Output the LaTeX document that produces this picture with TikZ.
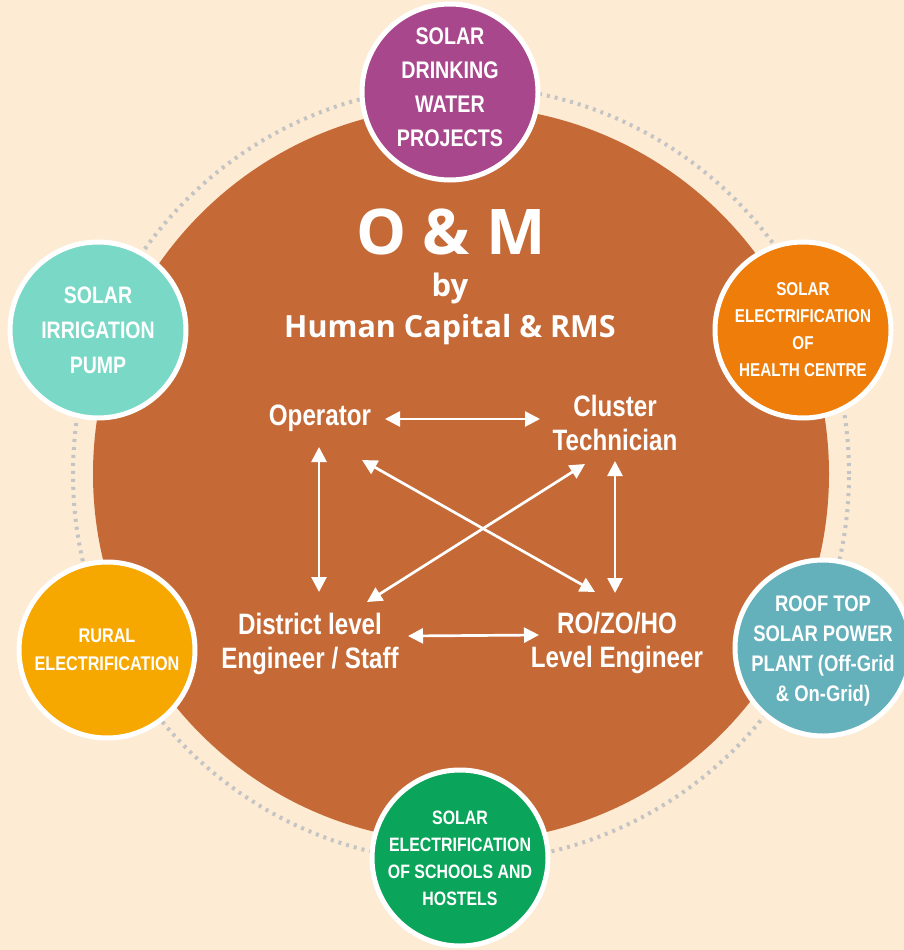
\documentclass[tikz,border=0pt]{standalone}
\usepackage{fontspec}
\setmainfont{Liberation Sans}
\newfontfamily\osfont{Open Sans}
\newfontfamily\cnd{Liberation Sans}[FakeStretch=0.82]
\usetikzlibrary{arrows.meta,calc}
\definecolor{bgc}{HTML}{FDEBD3}
\definecolor{brownc}{HTML}{C56A37}
\definecolor{ringc}{HTML}{C4C4C4}
\definecolor{purplec}{HTML}{A9478C}
\definecolor{orangec}{HTML}{EE7D0A}
\definecolor{tealc}{HTML}{64B1BB}
\definecolor{greenc}{HTML}{0AA55A}
\definecolor{yellowc}{HTML}{F7A800}
\definecolor{mintc}{HTML}{79D9C6}
\tikzset{
  sat/.style={circle, draw=white, line width=5pt, minimum size=176pt, inner sep=0pt},
  sattext/.style={align=center, text=white, inner sep=0pt},
  lbl/.style={text=white, align=center, inner sep=0pt, font=\cnd\bfseries\fontsize{29.5}{34.5}\selectfont},
  arr/.style={white, line width=2.7pt, {Triangle[length=15pt,width=15pt]}-{Triangle[length=15pt,width=15pt]}},
  ttl/.style={text=white, inner sep=0pt, font=\osfont\bfseries}
}
\begin{document}
\begin{tikzpicture}[x=1pt,y=-1pt]
\fill[bgc] (0,0) rectangle (904,950);
\useasboundingbox (0,0) rectangle (904,950);
\draw[ringc, line width=4pt, dash pattern=on 3pt off 5pt] (461,474) circle[radius=388pt];
\fill[brownc] (461,474) circle[radius=368pt];

% satellites
\node[sat, fill=purplec] (s1) at (450,92) {};
\node[sattext, font=\cnd\bfseries\fontsize{24}{34}\selectfont] (s1t) at ($(s1)+(0,-5)$) {SOLAR\\DRINKING\\WATER\\PROJECTS};
\node[sat, fill=orangec] (s2) at (803,330) {};
\node[sattext, font=\cnd\bfseries\fontsize{18.6}{27}\selectfont] (s2t) at (s2) {SOLAR\\ELECTRIFICATION\\OF\\HEALTH CENTRE};
\node[sat, fill=tealc] (s3) at (823,648) {};
\node[sattext, font=\cnd\bfseries\fontsize{22.5}{30}\selectfont] (s3t) at ($(s3)+(0,3)$) {ROOF TOP\\SOLAR POWER\\PLANT (Off-Grid\\\& On-Grid)};
\node[sat, fill=greenc] (s4) at (460,858) {};
\node[sattext, font=\cnd\bfseries\fontsize{19.4}{27}\selectfont] (s4t) at (s4) {SOLAR\\ELECTRIFICATION\\OF SCHOOLS AND\\HOSTELS};
\node[sat, fill=yellowc] (s5) at (107,650) {};
\node[sattext, font=\cnd\bfseries\fontsize{19.8}{28}\selectfont] (s5t) at (s5) {RURAL\\ELECTRIFICATION};
\node[sat, fill=mintc] (s6) at (98,330) {};
\node[sattext, font=\cnd\bfseries\fontsize{23.8}{35}\selectfont] (s6t) at (s6) {SOLAR\\IRRIGATION\\PUMP};

% title
\node[ttl, font=\osfont\bfseries\fontsize{63}{63}\selectfont] (t1) at (451,232) {O \& M};
\node[ttl, font=\osfont\bfseries\fontsize{31}{31}\selectfont] (t2) at (450,288) {by};
\node[ttl, font=\osfont\bfseries\fontsize{30.5}{31}\selectfont] (t3) at (450,330) {Human Capital \& RMS};

% diagram
\node[lbl] (op) at (320,418) {Operator};
\node[lbl] (ct) at (615,423) {Cluster\\Technician};
\node[lbl] (dl) at (310,644) {District level\\Engineer / Staff};
\node[lbl] (ro) at (617,643) {RO/ZO/HO\\Level Engineer};

\draw[arr] ($(op.center)+(65,1)$) -- ($(ct.center)+(-75,-4)$);
\draw[arr] ($(op.center)+(-1,29)$) -- ($(dl.center)+(9,-52)$);
\draw[arr] ($(ct.center)+(0,38)$) -- ($(ro.center)+(-2,-50)$);
\draw[arr] ($(dl.center)+(98,-8)$) -- ($(ro.center)+(-78,-8)$);
\draw[arr] ($(op.center)+(42,42)$) -- ($(ro.center)+(-22,-51)$);
\draw[arr] ($(ct.center)+(-30,41)$) -- ($(dl.center)+(57,-42)$);
\end{tikzpicture}
\end{document}
